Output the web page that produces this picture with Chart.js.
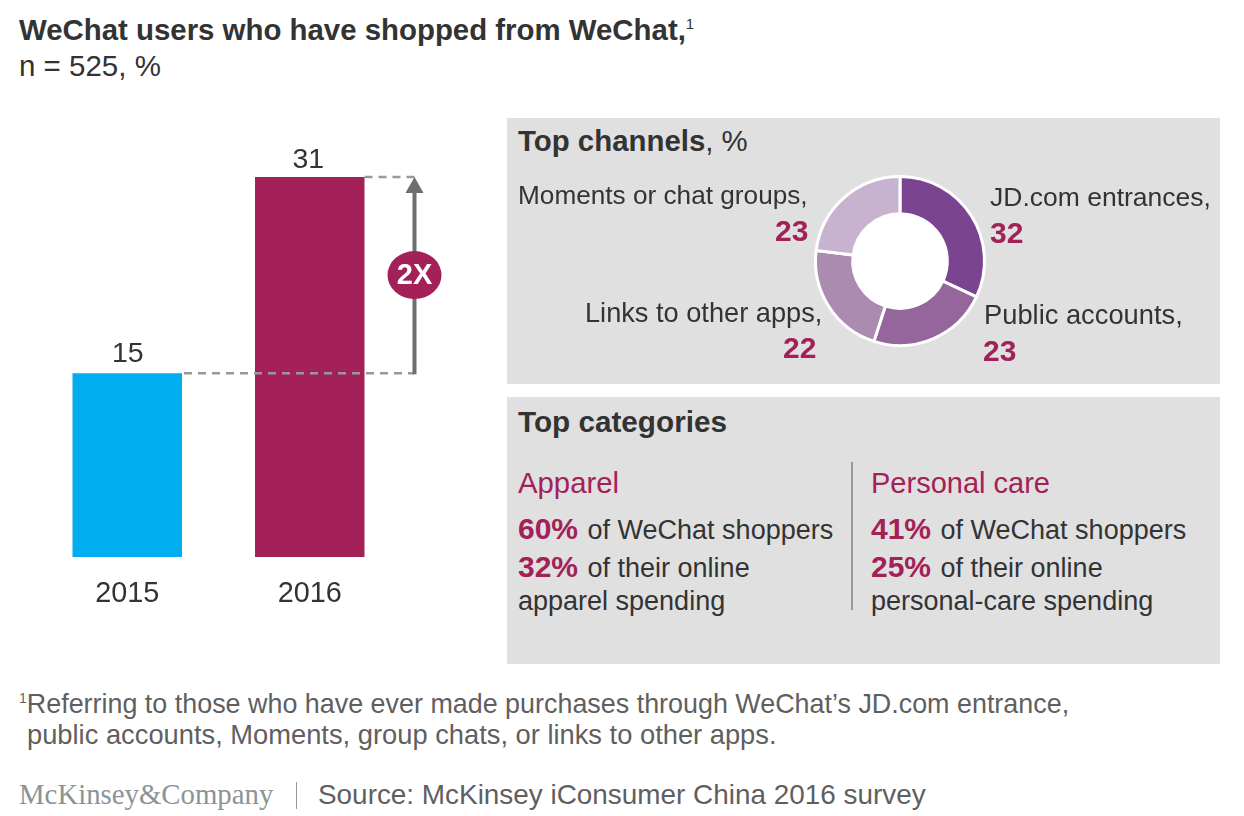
<!DOCTYPE html>
<html>
<head>
<meta charset="utf-8">
<script src="https://cdn.jsdelivr.net/npm/chart.js@4"></script>
<style>
html, body { margin: 0; padding: 0; background: #fff; }
#page { position: relative; width: 1244px; height: 816px; overflow: hidden; font-family: "Liberation Sans", sans-serif; color: #333; }
.t { position: absolute; line-height: 40px; white-space: nowrap; font-size: 27px; }
.r { color: #a32059; font-weight: bold; font-size: 30px; }
.t > .r { margin-right: 2px; }
.h { color: #a32059; }
sup { font-size: 15px; line-height: 0; vertical-align: baseline; position: relative; top: -11px; }
.panel { position: absolute; background: #e0e0e0; left: 507px; width: 713px; }
canvas { position: absolute; }
</style>
</head>
<body>
<div id="page">
  <div class="t" style="left:19px;top:10px;font-weight:bold;font-size:29.4px">WeChat users who have shopped from WeChat,<sup style="font-weight:normal">1</sup></div>
  <div class="t" style="left:19px;top:46px;font-size:29.5px">n = 525, %</div>

  <div class="panel" style="top:118px;height:266px"></div>
  <div class="panel" style="top:397px;height:267px"></div>

  <div style="position:absolute;left:0;top:130px;width:500px;height:500px"><canvas id="barChart"></canvas></div>
  <div style="position:absolute;left:800px;top:161px;width:200px;height:200px"><canvas id="donutChart"></canvas></div>

  <div class="t" style="left:518px;top:121px;font-size:29.4px"><b>Top channels</b>, %</div>
  <div class="t" style="left:518px;top:175px;font-size:26.2px">Moments or chat groups,</div>
  <div class="t r" data-i="3" style="left:775px;top:211px"></div>
  <div class="t" style="left:990px;top:177px;font-size:26.5px">JD.com entrances,</div>
  <div class="t r" data-i="0" style="left:990px;top:213px"></div>
  <div class="t" style="left:585px;top:293px;font-size:27.2px">Links to other apps,</div>
  <div class="t r" data-i="2" style="left:783px;top:328px"></div>
  <div class="t" style="left:984px;top:295px;font-size:27.3px">Public accounts,</div>
  <div class="t r" data-i="1" style="left:983px;top:331px"></div>

  <div class="t" style="left:518px;top:402px;font-weight:bold;font-size:29.7px">Top categories</div>
  <div class="t h" style="left:518px;top:463px;font-size:29.3px">Apparel</div>
  <div class="t" style="left:518px;top:509px"><span class="r">60%</span> of WeChat shoppers</div>
  <div class="t" style="left:518px;top:547px"><span class="r">32%</span> of their online</div>
  <div class="t" style="left:518px;top:581px">apparel spending</div>
  <div style="position:absolute;left:851px;top:462px;width:2px;height:148px;background:#999"></div>
  <div class="t h" style="left:871px;top:463px;font-size:29px">Personal care</div>
  <div class="t" style="left:871px;top:509px"><span class="r">41%</span> of WeChat shoppers</div>
  <div class="t" style="left:871px;top:547px"><span class="r">25%</span> of their online</div>
  <div class="t" style="left:871px;top:581px">personal-care spending</div>

  <div class="t" style="left:19px;top:684px;font-size:26.9px;color:#5f5f5f"><sup style="font-size:14px;top:-10px">1</sup>Referring to those who have ever made purchases through WeChat’s JD.com entrance,</div>
  <div class="t" style="left:27px;top:715px;font-size:27.3px;color:#5f5f5f">public accounts, Moments, group chats, or links to other apps.</div>
  <div class="t" style="left:19px;top:774px;font-size:28.8px;font-family:'Liberation Serif',serif;color:#8b9494">McKinsey&amp;Company</div>
  <div style="position:absolute;left:296px;top:782px;width:1px;height:27px;background:#999"></div>
  <div class="t" style="left:318px;top:775px;font-size:27.9px;color:#5f5f5f">Source: McKinsey iConsumer China 2016 survey</div>
</div>
<script>
// bar data
const years = ['2015', '2016'];
const shoppers = [15, 31];
const barColors = ['#00aeef', '#a32059'];
const growthLabel = '2X';

// donut data
const channels = ['JD.com entrances', 'Public accounts', 'Links to other apps', 'Moments or chat groups'];
const channelValues = [32, 23, 22, 23];
const channelColors = ['#7b4490', '#94669b', '#ac8bb0', '#c7b3cf'];

document.querySelectorAll('[data-i]').forEach(function (el) {
    el.textContent = channelValues[el.dataset.i];
});

const font = '"Liberation Sans", sans-serif';

// value labels + the dashed lines and arrow
const barExtras = {
    id: 'barExtras',
    afterDraw(chart) {
        const c = chart.ctx;
        const meta = chart.getDatasetMeta(0);
        const y = chart.scales.y;
        const y0 = y.getPixelForValue(shoppers[0]);
        const y1 = y.getPixelForValue(shoppers[1]);
        const first = meta.data[0];
        const second = meta.data[1];
        const ax = second.x + second.width / 2 + 50;

        c.save();
        c.fillStyle = '#333';
        c.font = '28.5px ' + font;
        c.textAlign = 'center';
        c.textBaseline = 'bottom';
        meta.data.forEach(function (bar, i) {
            // the 15 sits a touch higher and further right than the 31
            c.fillText(shoppers[i], bar.x + (i ? -1.5 : 0.5), bar.y - (i ? 3 : 5));
        });

        c.strokeStyle = '#999';
        c.lineWidth = 2.5;
        c.setLineDash([8, 6]);
        c.beginPath();
        c.moveTo(first.x + first.width / 2 + 2, y0);
        c.lineTo(ax, y0);
        c.moveTo(second.x + second.width / 2, y1);
        c.lineTo(ax, y1);
        c.stroke();
        c.setLineDash([]);

        c.strokeStyle = '#6e6e6e';
        c.lineWidth = 4;
        c.beginPath();
        c.moveTo(ax, y0 + 1);
        c.lineTo(ax, y1 + 14);
        c.stroke();
        c.fillStyle = '#6e6e6e';
        c.beginPath();
        c.moveTo(ax, y1);
        c.lineTo(ax + 9, y1 + 16);
        c.lineTo(ax - 9, y1 + 16);
        c.closePath();
        c.fill();

        const by = y.getPixelForValue(23);
        c.fillStyle = '#a32059';
        c.beginPath();
        c.ellipse(ax, by, 27, 24, 0, 0, Math.PI * 2);
        c.fill();
        c.fillStyle = '#fff';
        c.font = 'bold 29px ' + font;
        c.textBaseline = 'middle';
        c.fillText(growthLabel, ax, by + 1);
        c.restore();
    }
};

new Chart(document.getElementById('barChart'), {
    type: 'bar',
    data: {
        labels: years,
        datasets: [{
            data: shoppers,
            backgroundColor: barColors,
            barPercentage: 0.6,
            categoryPercentage: 1
        }]
    },
    options: {
        responsive: true,
        maintainAspectRatio: false,
        animation: false,
        layout: { padding: { left: 36, right: 99, top: 47, bottom: 0 } },
        plugins: { legend: { display: false }, tooltip: { enabled: false } },
        scales: {
            x: {
                grid: { display: false },
                border: { display: false },
                ticks: { color: '#333', font: { family: font, size: 28.8 }, padding: 12, maxRotation: 0 },
                afterFit(scale) { scale.height = 73; }
            },
            y: { display: false, min: 0, max: 31 }
        }
    },
    plugins: [barExtras]
});

// white disc behind the ring, so the hole and outer edge read white on the grey panel
const donutBacking = {
    id: 'donutBacking',
    beforeDatasetsDraw(chart) {
        const arc = chart.getDatasetMeta(0).data[0];
        const c = chart.ctx;
        c.save();
        c.fillStyle = '#fff';
        c.beginPath();
        c.arc(arc.x, arc.y, arc.outerRadius + 1, 0, Math.PI * 2);
        c.fill();
        c.restore();
    }
};

new Chart(document.getElementById('donutChart'), {
    type: 'doughnut',
    data: {
        labels: channels,
        datasets: [{
            data: channelValues,
            backgroundColor: channelColors,
            borderColor: '#fff',
            borderWidth: 3
        }]
    },
    options: {
        responsive: true,
        maintainAspectRatio: false,
        animation: false,
        cutout: '56%',
        layout: { padding: 14 },
        plugins: { legend: { display: false }, tooltip: { enabled: false } }
    },
    plugins: [donutBacking]
});
</script>
</body>
</html>
